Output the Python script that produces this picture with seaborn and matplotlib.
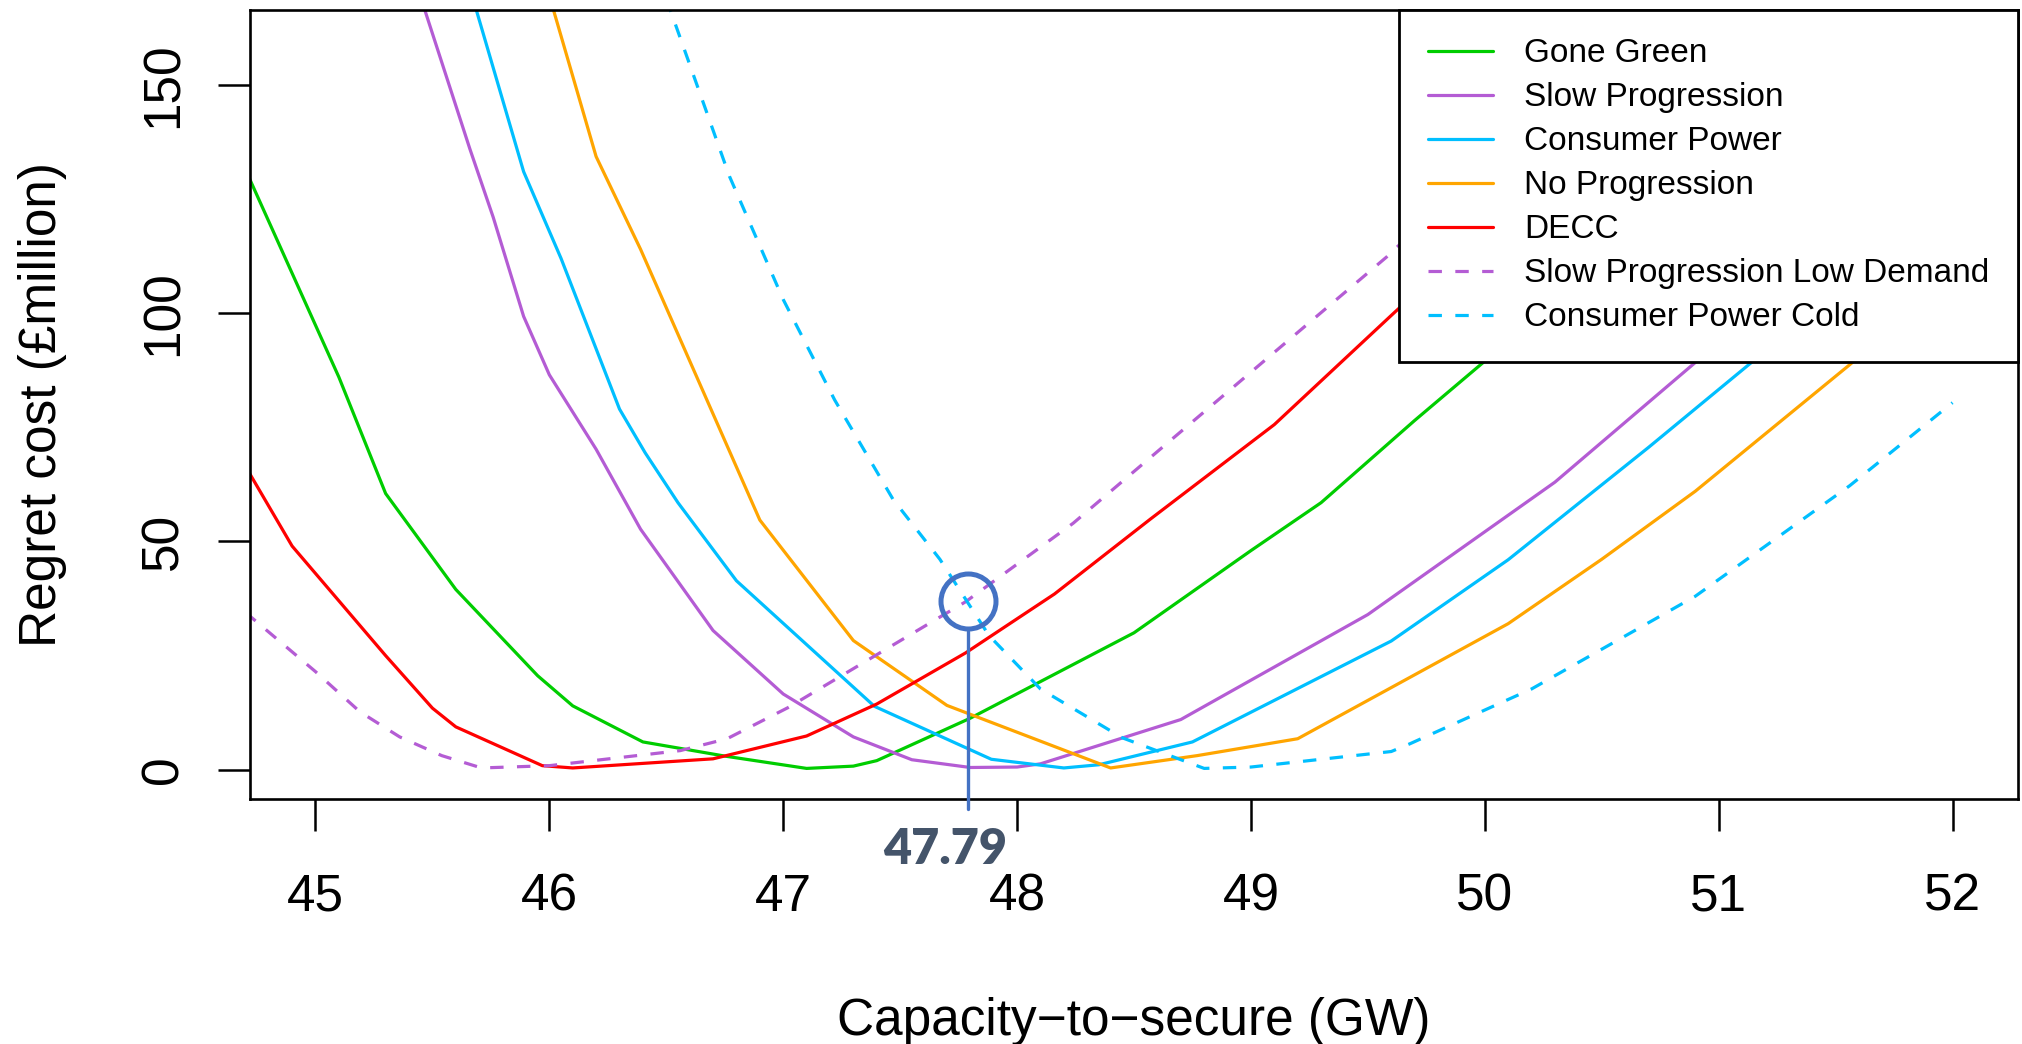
import matplotlib
matplotlib.use('Agg')
import matplotlib.pyplot as plt
import seaborn as sns

# ── data ──────────────────────────────────────────────────────
gg_x = [44.70, 45.10, 45.30, 45.60, 45.95, 46.10, 46.40, 46.75, 47.10, 47.30, 47.40, 47.80, 48.50, 49.00, 49.30, 49.70, 50.00, 50.30]
gg_y = [131.5, 86.0, 60.5, 39.5, 20.6, 14.0, 6.1, 3.0, 0.3, 0.8, 2.0, 11.3, 30.0, 48.0, 58.5, 76.5, 89.5, 102.0]

sp_x = [45.40, 45.47, 45.66, 45.76, 45.89, 46.00, 46.20, 46.39, 46.70, 47.00, 47.30, 47.55, 47.80, 48.00, 48.10, 48.70, 49.50, 50.30, 50.90, 51.10]
sp_y = [177.0, 166.0, 136.0, 121.0, 99.3, 86.5, 70.2, 52.7, 30.5, 16.6, 7.2, 2.2, 0.5, 0.6, 1.3, 11.0, 34.0, 63.0, 89.2, 98.0]

cp_x = [45.62, 45.69, 45.89, 46.05, 46.30, 46.41, 46.55, 46.80, 47.39, 47.89, 48.20, 48.35, 48.75, 49.60, 50.10, 50.70, 51.14, 51.30]
cp_y = [178.0, 166.0, 131.0, 112.0, 79.0, 69.4, 58.5, 41.4, 13.9, 2.3, 0.4, 1.1, 6.1, 28.2, 46.0, 70.6, 89.2, 97.0]

np_x = [45.95, 46.02, 46.20, 46.39, 46.61, 46.90, 47.30, 47.70, 48.40, 48.77, 49.20, 50.10, 50.50, 50.90, 51.56, 51.75]
np_y = [178.0, 166.0, 134.3, 114.0, 88.4, 54.7, 28.3, 14.1, 0.4, 3.1, 6.8, 32.0, 46.1, 61.0, 88.7, 97.0]

dc_x = [44.70, 44.90, 45.10, 45.30, 45.50, 45.60, 45.97, 46.10, 46.70, 47.10, 47.40, 47.78, 48.16, 48.57, 49.10, 49.60, 49.80]
dc_y = [66.5, 49.0, 37.0, 25.0, 13.5, 9.4, 0.9, 0.4, 2.4, 7.4, 14.4, 25.6, 38.5, 54.9, 75.6, 99.5, 109.0]

sl_x = [44.70, 45.00, 45.19, 45.36, 45.54, 45.71, 46.00, 46.56, 46.76, 47.02, 47.78, 48.24, 48.63, 49.58, 49.80]
sl_y = [34.5, 21.5, 12.7, 7.2, 3.1, 0.4, 0.9, 4.2, 6.8, 13.6, 36.8, 54.0, 71.0, 112.3, 123.0]

cc_x = [46.45, 46.52, 46.77, 47.00, 47.22, 47.47, 47.67, 47.88, 48.10, 48.45, 48.80, 49.00, 49.60, 49.68, 50.20, 50.90, 51.56, 52.00]
cc_y = [178.0, 166.0, 130.0, 103.0, 81.0, 59.2, 46.1, 29.4, 17.7, 7.0, 0.3, 0.6, 4.0, 5.7, 17.7, 38.0, 62.2, 80.4]

labels = ['Gone Green', 'Slow Progression', 'Consumer Power', 'No Progression', 'DECC',
          'Slow Progression Low Demand', 'Consumer Power Cold']
colors = ['#00CD00', '#B45CD4', '#00BFFF', '#FFA500', '#FF0000', '#B45CD4', '#00BFFF']
dashed = [False, False, False, False, False, True, True]
xs = [gg_x, sp_x, cp_x, np_x, dc_x, sl_x, cc_x]
ys = [gg_y, sp_y, cp_y, np_y, dc_y, sl_y, cc_y]

x_ticks = [45, 46, 47, 48, 49, 50, 51, 52]
y_ticks = [0, 50, 100, 150]

annot_x = 47.79
annot_y = 37.0
annot_label = '47.79'

# ── style ─────────────────────────────────────────────────────
sns.set_style('ticks')
plt.rcParams['font.family'] = ['Liberation Sans', 'DejaVu Sans']
plt.rcParams['text.color'] = 'black'
plt.rcParams['axes.labelcolor'] = 'black'
plt.rcParams['xtick.color'] = 'black'
plt.rcParams['ytick.color'] = 'black'

fig = plt.figure(figsize=(20.22, 10.44), dpi=100)
ax = fig.add_axes([250 / 2022, 1 - 799 / 1044, 1768 / 2022, 789 / 1044])

for x, y, lab, col, dsh in zip(xs, ys, labels, colors, dashed):
    ls = (0, (4.2, 4.2)) if dsh else '-'
    sns.lineplot(x=x, y=y, color=col, linewidth=2.3, linestyle=ls, label=lab,
                 sort=False, estimator=None, ax=ax)

ax.set_xlim(44.72, 52.28)
ax.set_ylim(-6.4, 166.4)
ax.set_xticks(x_ticks)
ax.set_yticks(y_ticks)

for sp in ax.spines.values():
    sp.set_visible(True)
    sp.set_linewidth(1.9)
    sp.set_color('black')

ax.tick_params(axis='both', which='major', bottom=True, left=True, top=False, right=False,
               direction='out', length=23, width=1.8, color='black', labelcolor='black',
               labelsize=37, pad=30)
ax.tick_params(axis='y', labelrotation=90, pad=21)
for t in ax.get_yticklabels():
    t.set_va('center')

ax.set_xlabel('Capacity\u2212to\u2212secure (GW)', fontsize=37, color='black')
ax.set_ylabel('Regret cost (\u00a3million)', fontsize=37, color='black')
ax.xaxis.set_label_coords(0.5, -0.251)
ax.yaxis.set_label_coords(-0.1035, 0.5)

leg = ax.legend(loc='upper right', borderaxespad=0, frameon=True, fancybox=False,
                edgecolor='black', framealpha=1, fontsize=24, handlelength=1.95,
                handletextpad=0.95, borderpad=0.85, labelspacing=0.39)
leg.get_frame().set_linewidth(2.0)
leg.set_zorder(10)
for t in leg.get_texts():
    t.set_color('black')

# ── annotation of the crossing point ─────────────────────────
blue = '#4472C4'
r_data = 30 / 4.575
ax.plot([annot_x, annot_x], [annot_y - r_data, -8.6], color=blue, lw=2.4,
        clip_on=False, zorder=6)
ax.plot([annot_x], [annot_y], marker='o', ms=39.6, mfc='none', mec=blue, mew=3.6,
        clip_on=False, zorder=6)
ax.annotate(annot_label, xy=(annot_x, -6.4), xytext=(-16.5, -36), textcoords='offset points',
            ha='center', va='center', fontsize=35, fontweight='heavy', color='#44546A',
            family=['Lato', 'DejaVu Sans'], annotation_clip=False)

plt.savefig('out.png', dpi=100)
plt.close()
